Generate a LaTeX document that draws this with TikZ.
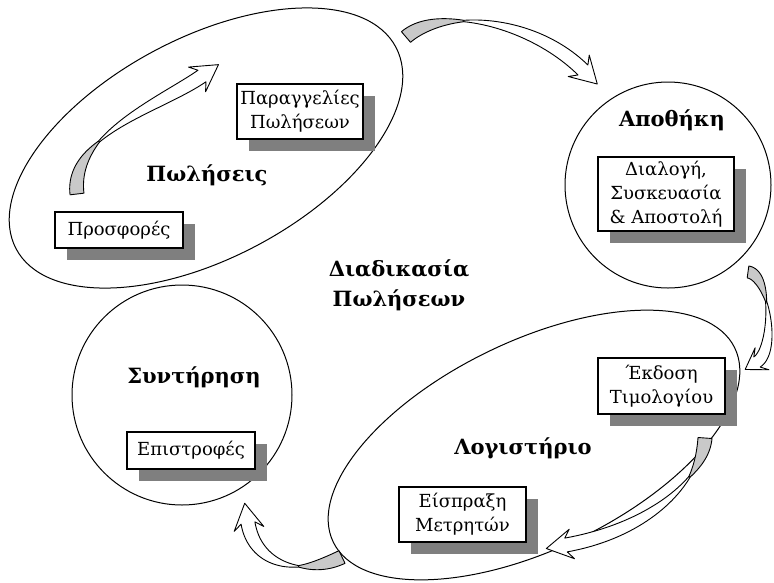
\documentclass[tikz,border=0pt]{standalone}
\usepackage{fontspec}
\setmainfont{DejaVu Serif}
\usetikzlibrary{shapes.geometric,shadows}

\definecolor{shadegray}{HTML}{7F7F7F}
\definecolor{undergray}{HTML}{C9C9C9}

% ribbon arrow parameters: half width, head half width, head length, barb sweep
\def\rw{7}\def\rhw{15}\def\rhl{20}\def\rhb{6}

% twisted ribbon arrow along a cubic Bezier centre line
% #1,#2 tail  #3,#4 control  #5,#6 control  #7,#8 end of band  #9 twist position
\newcommand\ribbonarrow[9]{%
  \def\rxa{#1}\def\rya{#2}\def\rxb{#3}\def\ryb{#4}%
  \def\rxc{#5}\def\ryc{#6}\def\rxd{#7}\def\ryd{#8}\def\rtw{#9}%
  \pgfmathsetmacro\rtl{veclen(tgx(1),tgy(1))}%
  \pgfmathsetmacro\rtx{tgx(1)/\rtl}%
  \pgfmathsetmacro\rty{tgy(1)/\rtl}%
  % underside, tail to twist
  \filldraw[ribbonline, fill=undergray]
    plot[variable=\s, domain=0:1, samples=24] ({gxa(\s)}, {gya(\s)})
    -- plot[variable=\s, domain=0:1, samples=24] ({gxb(\s)}, {gyb(\s)})
    -- cycle;
  % upper side, twist to head
  \filldraw[ribbonline, fill=white]
    plot[variable=\s, domain=0:1, samples=30] ({wxa(\s)}, {wya(\s)})
    -- ({\rxd - \rhw*\rty - \rhb*\rtx}, {\ryd + \rhw*\rtx - \rhb*\rty})
    -- ({\rxd + \rhl*\rtx}, {\ryd + \rhl*\rty})
    -- ({\rxd + \rhw*\rty - \rhb*\rtx}, {\ryd - \rhw*\rtx - \rhb*\rty})
    -- plot[variable=\s, domain=0:1, samples=30] ({wxb(\s)}, {wyb(\s)})
    -- cycle;
}

\tikzset{
  outline/.style={draw=black, line width=1pt},
  ribbonline/.style={draw=black, line width=0.9pt, line join=round},
  procbox/.style={draw=black, line width=1.3pt, fill=white, inner sep=0pt,
    align=center, font=\fontsize{18}{24}\selectfont,
    general shadow={fill=shadegray, shadow xshift=12pt, shadow yshift=-12pt}},
  areatitle/.style={font=\bfseries\fontsize{21}{30}\selectfont, align=center, inner sep=0pt},
}

\begin{document}
\begin{tikzpicture}[x=1pt, y=-1pt,
  declare function={
    bzx(\t)=(1-\t)*(1-\t)*(1-\t)*\rxa+3*(1-\t)*(1-\t)*\t*\rxb+3*(1-\t)*\t*\t*\rxc+\t*\t*\t*\rxd;
    bzy(\t)=(1-\t)*(1-\t)*(1-\t)*\rya+3*(1-\t)*(1-\t)*\t*\ryb+3*(1-\t)*\t*\t*\ryc+\t*\t*\t*\ryd;
    tgx(\t)=0.03*(1-\t)*(1-\t)*(\rxb-\rxa)+0.06*(1-\t)*\t*(\rxc-\rxb)+0.03*\t*\t*(\rxd-\rxc);
    tgy(\t)=0.03*(1-\t)*(1-\t)*(\ryb-\rya)+0.06*(1-\t)*\t*(\ryc-\ryb)+0.03*\t*\t*(\ryd-\ryc);
    nrx(\t)=-tgy(\t)/veclen(tgx(\t),tgy(\t));
    nry(\t)=tgx(\t)/veclen(tgx(\t),tgy(\t));
    ex(\t,\h)=bzx(\t)+\h*nrx(\t);
    ey(\t,\h)=bzy(\t)+\h*nry(\t);
    hwg(\t)=\rw*(0.1+0.9*cos(90*\t/\rtw));
    hww(\t)=\rw*(0.1+0.9*sin(90*(\t-\rtw)/(1-\rtw)));
    gxa(\s)=ex(\rtw*\s,hwg(\rtw*\s));
    gya(\s)=ey(\rtw*\s,hwg(\rtw*\s));
    gxb(\s)=ex(\rtw*(1-\s),-hwg(\rtw*(1-\s)));
    gyb(\s)=ey(\rtw*(1-\s),-hwg(\rtw*(1-\s)));
    wxa(\s)=ex(\rtw+(1-\rtw)*\s,hww(\rtw+(1-\rtw)*\s));
    wya(\s)=ey(\rtw+(1-\rtw)*\s,hww(\rtw+(1-\rtw)*\s));
    wxb(\s)=ex(1-(1-\rtw)*\s,-hww(1-(1-\rtw)*\s));
    wyb(\s)=ey(1-(1-\rtw)*\s,-hww(1-(1-\rtw)*\s));
  }]
\useasboundingbox (0,0) rectangle (774,582);

% departments
\node[outline, ellipse, minimum width=430pt, minimum height=220pt, rotate=28] (sales) at (206,148) {};
\node[outline, ellipse, minimum width=446pt, minimum height=208pt, rotate=25.8] (accounting) at (534,445) {};
\node[outline, circle, minimum size=206pt] (store) at (668,185) {};
\node[outline, circle, minimum size=220pt] (service) at (182,395) {};

% titles
\node[areatitle] (salestitle) at (207,175) {Πωλήσεις};
\node[areatitle] (storetitle) at (672,120) {Αποθήκη};
\node[areatitle] (processtitle) at (399,285) {Διαδικασία\\Πωλήσεων};
\node[areatitle] (servicetitle) at (194,377) {Συντήρηση};
\node[areatitle] (accountingtitle) at (523,448) {Λογιστήριο};

% process steps
\node[procbox, minimum width=126pt, minimum height=55pt] (orders) at (300,111.5) {Παραγγελίες\\Πωλήσεων};
\node[procbox, minimum width=128pt, minimum height=36pt] (offers) at (119,230) {Προσφορές};
\node[procbox, minimum width=136pt, minimum height=74pt] (picking) at (666,194) {Διαλογή,\\Συσκευασία\\\& Αποστολή};
\node[procbox, minimum width=128pt, minimum height=37pt] (returns) at (191,450.5) {Επιστροφές};
\node[procbox, minimum width=127pt, minimum height=56pt] (invoice) at (661.5,386) {Έκδοση\\Τιμολογίου};
\node[procbox, minimum width=127pt, minimum height=55pt] (cash) at (462.5,514.5) {Είσπραξη\\Μετρητών};

% flow arrows
\ribbonarrow{77}{194}{70}{135}{160}{105}{202}{76}{0.35}
\ribbonarrow{406}{37}{440}{8}{530}{18}{583}{70}{0.38}
{\def\rhw{13}\def\rhl{14}\def\rw{6}
 \ribbonarrow{748}{272}{770}{275}{776}{350}{757}{362}{0.4}}
\ribbonarrow{705}{438}{702}{480}{650}{530}{566}{545}{0.3}
\ribbonarrow{342}{557}{300}{577}{255}{565}{248}{523}{0.35}
\end{tikzpicture}
\end{document}
